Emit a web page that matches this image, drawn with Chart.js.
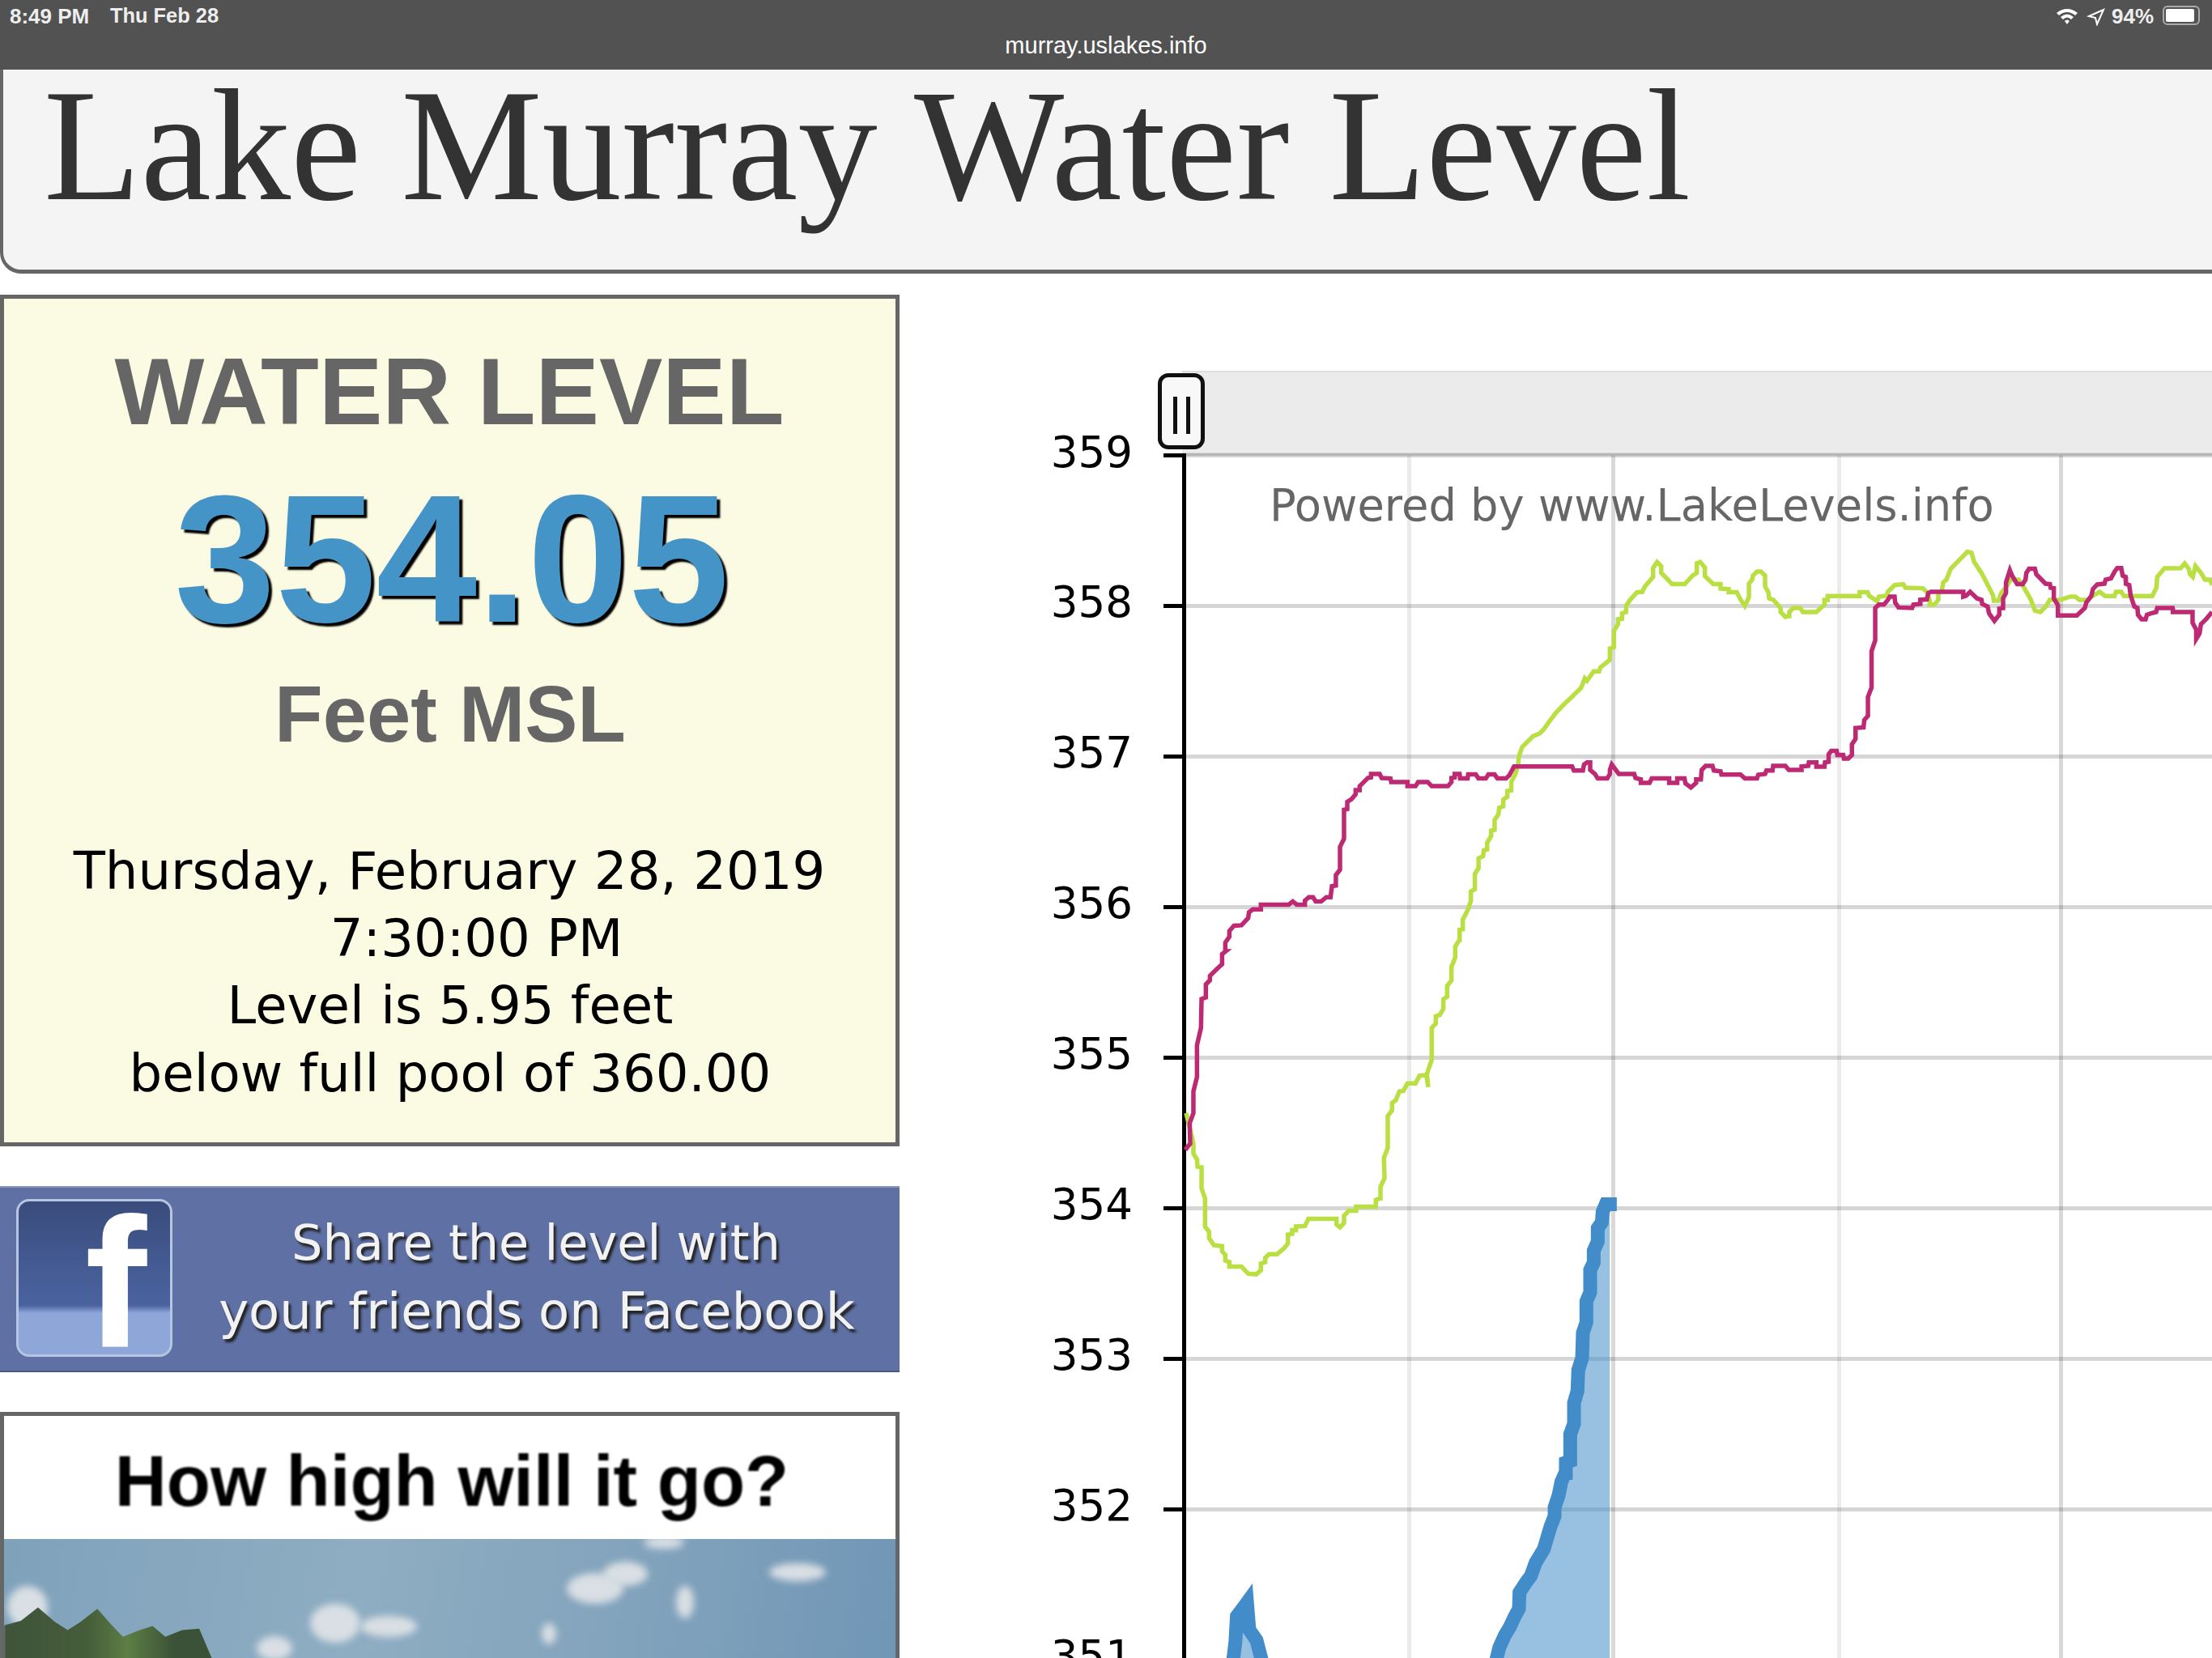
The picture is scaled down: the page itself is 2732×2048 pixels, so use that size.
<!DOCTYPE html>
<html>
<head>
<meta charset="utf-8">
<title>Lake Murray Water Level</title>
<script src="https://cdn.jsdelivr.net/npm/chart.js@4"></script>
<style>
  html, body { margin: 0; padding: 0; background: #fff; width: 2732px; height: 2048px; overflow: hidden; }
  .t { position: absolute; white-space: nowrap; line-height: 1; }
  .c { text-align: center; }
  .box { position: absolute; box-sizing: border-box; }
  .sans { font-family: "Liberation Sans", sans-serif; }
  .dv { font-family: "DejaVu Sans", sans-serif; }
  .cloud { position: absolute; border-radius: 50%; background: #d9dfe4; filter: blur(5px); }
  #chartWrap { position: absolute; left: 1240px; top: 498px; }
</style>
</head>
<body>
<!-- status bar -->
<div class="box" style="left:0;top:0;width:2732px;height:86px;background:#525252"></div>
<div class="t sans" style="left:12px;top:7px;font-size:26px;font-weight:bold;color:#eee">8:49 PM</div>
<div class="t sans" style="left:136px;top:7px;font-size:25.4px;font-weight:bold;color:#eee">Thu Feb 28</div>
<div class="t sans c" style="left:1166px;width:400px;top:42px;font-size:29px;color:#fff">murray.uslakes.info</div>
<svg style="position:absolute;left:2538px;top:8px" width="70" height="24" viewBox="0 0 70 24">
  <path d="M2 8 Q15 -2 28 8 L25 11 Q15 3 5 11Z M7 13 Q15 6 23 13 L20 16 Q15 11 10 16Z M12 18 Q15 15 18 18 L15 22Z" fill="#fff"/>
  <path d="M42 12 L60 4 L52 22 L50 14Z" fill="none" stroke="#fff" stroke-width="2"/>
</svg>
<div class="t sans" style="left:2608px;top:7px;font-size:26px;font-weight:bold;color:#eee">94%</div>
<div class="box" style="left:2671px;top:7px;width:46px;height:24px;border:2px solid #aaa;border-radius:6px;padding:2px"><div style="background:#fff;height:100%;width:92%;border-radius:2px"></div></div>

<!-- title panel -->
<div class="box" style="left:0;top:86px;width:2760px;height:252px;background:#f4f4f4;border-left:4px solid #666;border-bottom:5px solid #666;border-bottom-left-radius:26px"></div>
<div class="t" style="left:54px;top:82px;font-family:'Liberation Serif',serif;font-size:196.2px;color:#333">Lake Murray Water Level</div>

<!-- level panel -->
<div class="box" style="left:0;top:364px;width:1111px;height:1052px;background:#fbfbe3;border:5px solid #666"></div>
<div class="t sans c" style="left:0;width:1110px;top:425px;font-size:117.5px;font-weight:bold;color:#666">WATER LEVEL</div>
<div class="t sans c" style="left:0;width:1116px;top:578px;font-size:224px;font-weight:bold;color:#4494c8;text-shadow:4px 4px 2px #000">354.05</div>
<div class="t sans c" style="left:0;width:1112px;top:834px;font-size:97.6px;font-weight:bold;color:#666">Feet MSL</div>
<div class="t dv c" style="left:0;width:1110px;top:1044px;font-size:64.1px;color:#000">Thursday, February 28, 2019</div>
<div class="t dv c" style="left:0;width:1177px;top:1127px;font-size:64.1px;color:#000">7:30:00 PM</div>
<div class="t dv c" style="left:0;width:1112px;top:1210px;font-size:64.1px;color:#000">Level is 5.95 feet</div>
<div class="t dv c" style="left:0;width:1112px;top:1294px;font-size:64.1px;color:#000">below full pool of 360.00</div>

<!-- facebook banner -->
<div class="box" style="left:0;top:1465px;width:1111px;height:230px;background:#5f71a4;border-top:2px solid #8a98c0;border-bottom:2px solid #46588c"></div>
<div class="box" style="left:20px;top:1481px;width:193px;height:195px;border-radius:16px;border:3px solid #b8c5e0;background:linear-gradient(#3a4c7c 0%,#4a63a0 68%,#8ea6d8 73%,#8ea6d8 100%)"></div>
<div class="t sans" style="left:105px;top:1471px;font-size:229px;font-weight:bold;color:#fff">f</div>
<div class="t dv c" style="left:267px;width:790px;top:1505px;font-size:60.5px;color:#f2f2f2;text-shadow:3px 4px 3px #222">Share the level with</div>
<div class="t dv c" style="left:248px;width:830px;top:1589px;font-size:62.4px;color:#f2f2f2;text-shadow:3px 4px 3px #222">your friends on Facebook</div>

<!-- photo box -->
<div class="box" style="left:0;top:1744px;width:1111px;height:320px;background:#fff;border:5px solid #666"></div>
<div class="t sans c" style="left:0;width:1116px;top:1786px;font-size:88.7px;font-weight:bold;color:#000;filter:blur(1.2px)">How high will it go?</div>
<div class="box" style="left:5px;top:1901px;width:1101px;height:160px;overflow:hidden;background:linear-gradient(100deg,#7fa2bb 0%,#8eadc2 40%,#82a3bc 70%,#7096b6 100%)">
  <div class="cloud" style="left:695px;top:42px;width:70px;height:38px"></div>
  <div class="cloud" style="left:740px;top:28px;width:55px;height:30px"></div>
  <div class="cloud" style="left:378px;top:80px;width:62px;height:48px"></div>
  <div class="cloud" style="left:440px;top:95px;width:70px;height:26px"></div>
  <div class="cloud" style="left:945px;top:30px;width:70px;height:22px"></div>
  <div class="cloud" style="left:830px;top:58px;width:22px;height:40px"></div>
  <div class="cloud" style="left:790px;top:-4px;width:50px;height:16px"></div>
  <div class="cloud" style="left:4px;top:58px;width:50px;height:52px"></div>
  <div class="cloud" style="left:312px;top:120px;width:44px;height:30px"></div>
  <div class="cloud" style="left:664px;top:104px;width:18px;height:26px"></div>
  <div class="box" style="left:0;top:78px;width:262px;height:82px;background:linear-gradient(90deg,#3e5338 0%,#465d3a 40%,#5c7f44 58%,#3c5238 80%);filter:blur(1.5px);clip-path:polygon(0 35%,8% 28%,16% 8%,24% 30%,30% 42%,36% 30%,44% 10%,50% 32%,56% 52%,64% 42%,70% 36%,76% 52%,84% 42%,92% 40%,100% 100%,0 100%)"></div>
</div>

<!-- range selector band above the plot -->
<div class="box" style="left:1460px;top:458px;width:1272px;height:105px;background:#ebebeb;border-top:2px solid #dddddd;border-bottom:4px solid #d9d9d9"></div>

<div id="chartWrap"><canvas id="levels" width="1492" height="1710"></canvas></div>

<div class="box" style="left:1430px;top:461px;width:58px;height:94px;background:#f8f8f8;border:5px solid #111;border-radius:13px">
  <div class="box" style="left:14px;top:24px;width:5px;height:46px;background:#111"></div>
  <div class="box" style="left:30px;top:24px;width:5px;height:46px;background:#111"></div>
</div>
<div class="t dv" style="left:1568px;top:598px;font-size:54.3px;color:#666">Powered by www.LakeLevels.info</div>

<script>
// tick positions: day counted from Jan 1
const monthDays = [0, 31, 59, 90, 120.5];
const levelTicks = [351, 352, 353, 354, 355, 356, 357, 358, 359];

// 2019, still rising when the page was captured
const blueDays = [5.2, 6, 6.8, 7.1, 7.3, 8.1, 8.7, 9, 10, 10.7, 11.4, 12.6, 40.4, 41.6, 42.3, 42.98, 43.35, 44.09, 44.83, 45.39, 46.05, 46.13, 47.06, 47.69, 48.35, 49.47, 49.84, 50.39, 50.95, 50.95, 51.5, 51.88, 52.43, 52.5, 53.1, 53.1, 53.62, 53.62, 54.1, 54.2, 54.73, 54.84, 55.32, 55.32, 55.84, 55.84, 56.33, 56.33, 56.88, 56.88, 57.44, 57.55, 57.99, 58.55];
const blueLevels = [350.55, 350.75, 351, 351.12, 351.29, 351.34, 351.38, 351.2, 351.13, 351, 350.8, 350.55, 350.55, 350.75, 350.9, 351.006, 351.081, 351.16, 351.22, 351.28, 351.339, 351.448, 351.517, 351.557, 351.646, 351.735, 351.795, 351.884, 351.954, 352.013, 352.092, 352.182, 352.241, 352.31, 352.32, 352.499, 352.568, 352.707, 352.786, 352.925, 353.005, 353.173, 353.242, 353.381, 353.44, 353.59, 353.639, 353.718, 353.778, 353.867, 353.907, 353.976, 354.026, 354.026];

const magentaDays = [0.22, 0.89, 0.82, 1.33, 1.33, 1.82, 1.82, 2.37, 2.45, 3.04, 3.04, 3.6, 3.6, 4.6, 5.27, 5.27, 5.78, 5.71, 6.27, 6.27, 6.9, 7.93, 8.86, 8.97, 9.49, 10.6, 10.6, 14.42, 14.98, 15.54, 16.65, 16.65, 17.2, 17.76, 18.13, 18.87, 19.6, 20.17, 20.36, 20.9, 20.9, 21.47, 21.47, 22.02, 22.02, 22.47, 22.47, 23.06, 23.62, 23.62, 24.17, 24.17, 25.29, 25.73, 25.73, 26.92, 27.2, 28.4, 28.5, 30.74, 30.74, 31.85, 32.2, 33.52, 34.08, 36.3, 36.78, 36.78, 37.23, 37.23, 37.9, 37.97, 39, 39.08, 40.12, 40.5, 41.5, 41.86, 42.7, 43.1, 44.27, 44.72, 45.38, 53.36, 53.6, 54.84, 55, 55.4, 55.84, 55.84, 56.5, 56.88, 58.18, 58.55, 58.55, 58.81, 59.78, 61.89, 62.07, 62.8, 62.8, 64, 64.3, 66.7, 66.7, 67.8, 67.8, 68.8, 68.93, 69.68, 70.4, 70.4, 71.05, 71.16, 71.7, 72.64, 72.83, 73.75, 73.87, 76.5, 77.09, 78.76, 78.94, 79.87, 80.06, 80.9, 80.98, 82.65, 83.13, 84.88, 84.88, 85.8, 85.88, 86.92, 86.92, 88.03, 88.1, 88.6, 88.6, 88.96, 89.7, 89.8, 90.6, 90.7, 91.3, 91.8, 91.8, 92.3, 92.3, 93.4, 93.5, 94, 94, 94.5, 94.5, 95, 95, 95.5, 96.2, 96.74, 97, 97.66, 97.74, 98.2, 100.07, 100.26, 101.2, 101.2, 102.1, 102.3, 102.67, 107.1, 107.1, 107.5, 108.04, 109, 109.6, 109.7, 110.45, 110.64, 111.38, 112.05, 112.05, 112.5, 112.57, 112.97, 112.97, 113.5, 113.8, 114.5, 115.27, 115.65, 115.76, 116.13, 116.94, 117.13, 118.4, 119, 119.1, 119.54, 119.54, 120.1, 120.1, 122.7, 123.8, 124, 124.7, 124.9, 125.5, 126.5, 126.66, 127.4, 127.9, 128.25, 128.8, 129, 129.4, 129.44, 129.9, 130.1, 130.6, 131.03, 131.1, 131.6, 132.15, 132.33, 132.9, 133.6, 133.74, 135.85, 135.9, 138.6, 138.6, 139.1, 139.1, 139.56, 139.75, 140.5, 141.27];
const magentaLevels = [354.388, 354.43, 354.565, 354.632, 354.776, 354.872, 355.083, 355.198, 355.39, 355.4, 355.487, 355.515, 355.544, 355.592, 355.621, 355.688, 355.708, 355.765, 355.804, 355.842, 355.877, 355.88, 355.928, 355.967, 355.986, 355.986, 356.017, 356.017, 356.038, 356.017, 356.017, 356.044, 356.067, 356.067, 356.038, 356.038, 356.067, 356.067, 356.14, 356.144, 356.213, 356.249, 356.401, 356.455, 356.647, 356.652, 356.7, 356.718, 356.751, 356.777, 356.777, 356.804, 356.858, 356.862, 356.885, 356.885, 356.858, 356.855, 356.831, 356.831, 356.804, 356.804, 356.831, 356.831, 356.804, 356.804, 356.831, 356.858, 356.862, 356.885, 356.885, 356.855, 356.855, 356.882, 356.882, 356.855, 356.855, 356.882, 356.882, 356.855, 356.855, 356.876, 356.935, 356.935, 356.908, 356.908, 356.948, 356.962, 356.962, 356.912, 356.885, 356.855, 356.855, 356.885, 356.912, 356.948, 356.885, 356.885, 356.858, 356.849, 356.826, 356.826, 356.855, 356.855, 356.826, 356.826, 356.855, 356.855, 356.822, 356.795, 356.826, 356.849, 356.849, 356.912, 356.939, 356.939, 356.908, 356.903, 356.881, 356.881, 356.855, 356.855, 356.88, 356.885, 356.908, 356.908, 356.939, 356.939, 356.912, 356.912, 356.935, 356.939, 356.962, 356.962, 356.934, 356.934, 356.962, 356.966, 357.016, 357.038, 357.038, 357.011, 357.011, 356.987, 356.987, 357.011, 357.082, 357.118, 357.19, 357.195, 357.244, 357.271, 357.396, 357.459, 357.701, 357.773, 357.988, 358.01, 358.01, 358.042, 358.063, 358.063, 358.024, 357.991, 357.988, 358.01, 358.015, 358.042, 358.045, 358.087, 358.095, 358.095, 358.063, 358.069, 358.095, 358.051, 358.042, 358.015, 357.997, 357.952, 357.902, 357.943, 357.984, 357.988, 358.051, 358.087, 358.158, 358.239, 358.203, 358.146, 358.146, 358.176, 358.221, 358.248, 358.248, 358.212, 358.149, 358.146, 358.122, 358.119, 358.051, 358.006, 357.938, 357.938, 357.988, 358.024, 358.069, 358.113, 358.144, 358.149, 358.176, 358.185, 358.23, 358.253, 358.253, 358.203, 358.194, 358.149, 358.14, 358.069, 357.997, 357.988, 357.943, 357.913, 357.913, 357.943, 357.952, 357.961, 357.988, 357.988, 357.961, 357.961, 357.889, 357.844, 357.782, 357.818, 357.88, 357.916, 357.961];

const greenDays = [0.33, 0.82, 1.33, 1.33, 1.82, 1.9, 2.45, 2.45, 2.93, 2.93, 3.49, 3.49, 4.15, 5.27, 5.27, 5.71, 5.71, 6.27, 6.27, 7.93, 8.86, 9.97, 10.6, 10.6, 11.2, 11.2, 11.72, 12.83, 13.87, 14.31, 14.31, 14.9, 14.9, 15.42, 15.42, 16.65, 17.13, 20.99, 20.99, 21.47, 22.02, 22.02, 22.69, 23.69, 23.69, 26.4, 26.4, 26.96, 27.03, 27.59, 27.5, 28.03, 28.03, 28.62, 28.62, 29.14, 29.63, 30.18, 30.74, 31.85, 32.4, 33.33, 33.6, 33.4, 34.07, 34.07, 34.63, 34.63, 35.19, 35.67, 35.67, 36.19, 36.19, 36.78, 36.78, 37.3, 37.3, 37.86, 37.9, 38.34, 38.34, 39, 39.45, 39.45, 40, 40, 40.5, 40.5, 41.12, 41.23, 41.68, 41.68, 42.23, 42.23, 42.71, 42.71, 43.23, 43.34, 43.9, 43.9, 44.46, 44.46, 45, 45, 45.57, 45.94, 46.05, 46.5, 48, 48.9, 49.46, 50.35, 51.1, 52.3, 53.4, 54.6, 55.1, 55.4, 56.33, 57.07, 57.25, 57.81, 58.55, 58.55, 59.11, 59.11, 59.66, 59.66, 60.22, 60.22, 60.78, 60.78, 61.26, 62.26, 63, 63.37, 64, 64.48, 64.48, 65.04, 65.6, 65.6, 66.52, 67.08, 68.82, 69.93, 70.49, 70.49, 70.97, 71.6, 71.6, 72.75, 73.75, 73.75, 74.87, 74.87, 75.98, 76.53, 77.09, 77.65, 77.65, 78.09, 78.2, 78.76, 79.3, 79.87, 79.87, 80.32, 80.43, 81, 82, 82, 82.65, 83.13, 83.2, 83.76, 84.69, 85.06, 86.92, 88.03, 88.03, 88.47, 88.47, 92.85, 92.85, 93.96, 94.15, 95.26, 95.5, 96.56, 96.74, 97.67, 98.85, 99.15, 101.56, 102.11, 102.48, 102.48, 103.15, 103.67, 103.67, 104.15, 104.34, 104.78, 105.37, 107.67, 108.23, 108.6, 109.6, 110.08, 110.57, 111.2, 111.3, 111.94, 112.3, 113.05, 113.6, 114.7, 115.46, 116.39, 116.94, 117.68, 118.43, 118.98, 120.47, 121.76, 122.5, 123.06, 124.17, 124.9, 125.84, 126.58, 127.88, 128.07, 128.8, 129.18, 133.07, 133.63, 133.74, 134.74, 136.97, 137.52, 138.08, 138.26, 138.63, 139, 139.75, 140.3, 141.04, 141.27];
const greenLevels = [354.632, 354.536, 354.43, 354.363, 354.324, 354.276, 354.272, 354.132, 354.065, 353.877, 353.844, 353.8, 353.754, 353.748, 353.715, 353.69, 353.652, 353.642, 353.613, 353.613, 353.565, 353.561, 353.588, 353.633, 353.642, 353.671, 353.694, 353.694, 353.738, 353.767, 353.825, 353.83, 353.854, 353.854, 353.879, 353.882, 353.93, 353.93, 353.892, 353.873, 353.902, 353.95, 353.984, 353.984, 354.011, 354.011, 354.055, 354.065, 354.142, 354.2, 354.334, 354.401, 354.612, 354.651, 354.699, 354.718, 354.776, 354.78, 354.83, 354.83, 354.881, 354.885, 354.805, 354.891, 354.987, 355.198, 355.227, 355.275, 355.285, 355.325, 355.388, 355.406, 355.478, 355.513, 355.603, 355.666, 355.738, 355.782, 355.85, 355.854, 355.917, 355.98, 356.042, 356.105, 356.12, 356.222, 356.258, 356.324, 356.338, 356.378, 356.383, 356.428, 356.473, 356.509, 356.514, 356.58, 356.616, 356.661, 356.67, 356.715, 356.733, 356.772, 356.777, 356.831, 356.885, 356.948, 357.002, 357.064, 357.136, 357.154, 357.181, 357.242, 357.29, 357.35, 357.4, 357.458, 357.52, 357.504, 357.567, 357.567, 357.593, 357.615, 357.644, 357.719, 357.728, 357.835, 357.88, 357.913, 357.916, 357.952, 357.961, 358.002, 358.038, 358.092, 358.095, 358.131, 358.167, 358.194, 358.253, 358.293, 358.266, 358.221, 358.176, 358.146, 358.146, 358.203, 358.221, 358.284, 358.293, 358.257, 358.2, 358.146, 358.146, 358.117, 358.113, 358.092, 358.092, 358.042, 358.002, 358.06, 358.149, 358.176, 358.203, 358.23, 358.23, 358.203, 358.131, 358.092, 358.051, 358.042, 357.988, 357.961, 357.929, 357.934, 357.961, 357.988, 357.988, 357.961, 357.961, 358.01, 358.042, 358.042, 358.067, 358.067, 358.092, 358.092, 358.069, 358.033, 358.063, 358.069, 358.095, 358.14, 358.146, 358.122, 358.119, 358.092, 358.042, 358.01, 358.01, 358.042, 358.087, 358.104, 358.158, 358.176, 358.248, 358.361, 358.355, 358.293, 358.221, 358.176, 358.131, 358.069, 358.036, 358.036, 358.087, 358.131, 358.176, 358.176, 358.122, 358.042, 357.97, 357.961, 357.997, 358.042, 358.042, 358.063, 358.063, 358.042, 358.042, 358.069, 358.095, 358.067, 358.067, 358.095, 358.095, 358.067, 358.067, 358.122, 358.194, 358.251, 358.253, 358.284, 358.248, 358.212, 358.194, 358.266, 358.221, 358.176, 358.176, 358.14];

function pairUp(days, levels) {
    return days.map((d, i) => ({ x: d, y: levels[i] }));
}

const ctx = document.getElementById("levels").getContext("2d");

new Chart(ctx, {
    type: 'line',
    data: {
        datasets: [
            { label: 'magenta', data: pairUp(magentaDays, magentaLevels), borderColor: '#bd2a73', borderWidth: 5.5, fill: false },
            { label: 'green', data: pairUp(greenDays, greenLevels), borderColor: '#b9df42', borderWidth: 5.5, fill: false },
            { label: 'level', data: pairUp(blueDays, blueLevels), borderColor: '#428dc9', borderWidth: 17, borderCapStyle: 'square',
              backgroundColor: 'rgba(66,141,201,0.55)', fill: 'start' }
        ]
    },
    options: {
        responsive: false,
        animation: false,
        devicePixelRatio: 1,
        layout: { padding: { top: 60, bottom: 30, left: 0, right: 0 } },
        elements: { point: { radius: 0 }, line: { tension: 0 } },
        plugins: { legend: { display: false }, tooltip: { enabled: false } },
        scales: {
            x: {
                type: 'linear',
                min: 0,
                max: 141.27,
                afterBuildTicks: scale => { scale.ticks = monthDays.map(v => ({ value: v })); },
                ticks: { display: false },
                border: { display: false },
                grid: {
                    drawTicks: false,
                    lineWidth: 5,
                    color: c => c.index % 2 === 0 ? 'rgba(0,0,0,0.15)' : 'rgba(0,0,0,0.08)'
                }
            },
            y: {
                type: 'linear',
                min: 350.5,
                max: 359,
                afterBuildTicks: scale => { scale.ticks = levelTicks.map(v => ({ value: v })); },
                afterFit: scale => { scale.width = 222; },
                ticks: {
                    padding: 33,
                    color: '#000',
                    font: { family: 'DejaVu Sans', size: 53 }
                },
                border: { color: '#000', width: 5 },
                grid: {
                    lineWidth: 5,
                    color: 'rgba(0,0,0,0.16)',
                    tickColor: '#000',
                    tickLength: 30,
                    tickWidth: 5,
                    tickBorderDash: [0, 5, 25, 100]
                }
            }
        }
    }
});
</script>
</body>
</html>
